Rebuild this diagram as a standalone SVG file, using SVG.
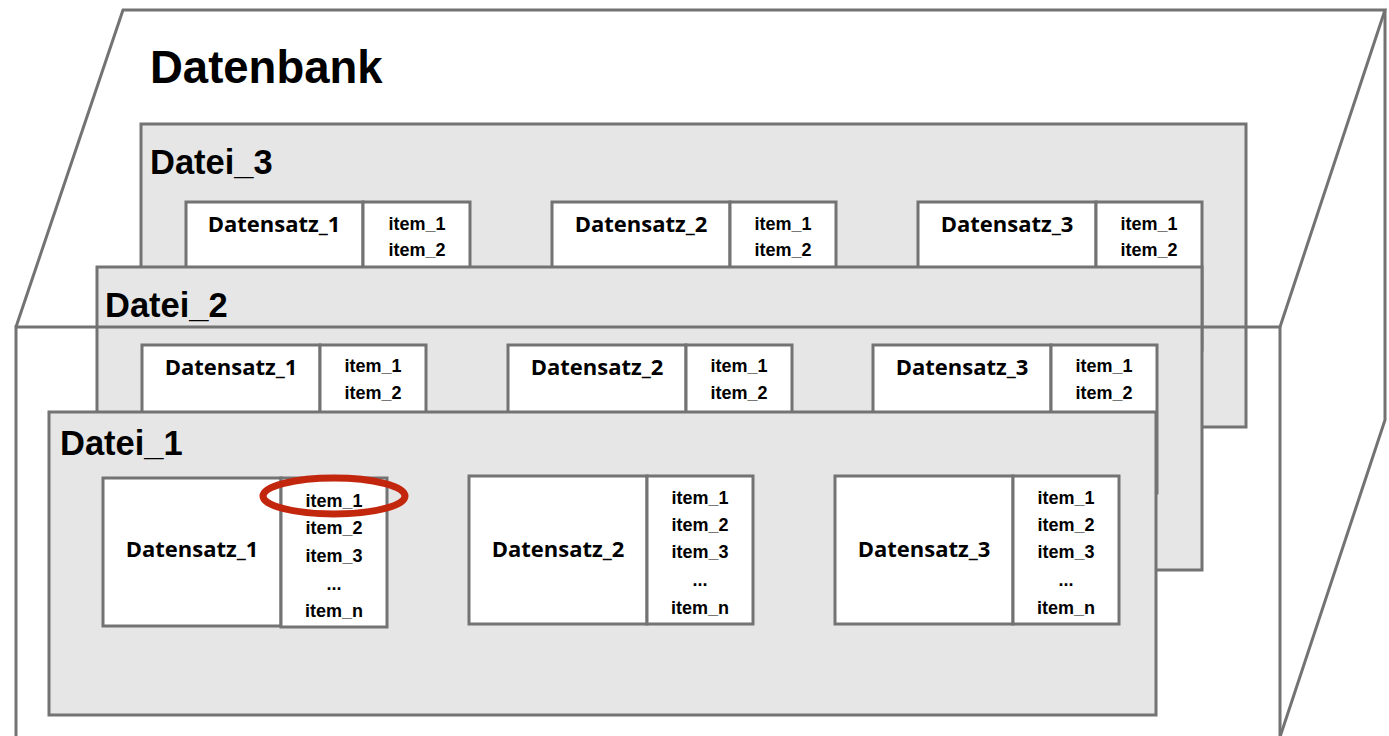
<svg xmlns="http://www.w3.org/2000/svg" width="1389" height="736" viewBox="0 0 1389 736">
  <style>
    .edge { fill: none; stroke: #737373; stroke-width: 3; }
    .file { fill: #e6e6e6; stroke: #737373; stroke-width: 3; }
    .rec { fill: #ffffff; stroke: #737373; stroke-width: 3; }
    .title { font-family: "Liberation Sans", Arial, sans-serif; font-weight: bold; fill: #000; }
    .rname { font-family: "Open Sans", "Liberation Sans", sans-serif; font-weight: bold; font-size: 22px; fill: #000; text-anchor: middle; }
    .item { font-family: "Liberation Sans", Arial, sans-serif; font-weight: bold; font-size: 18px; fill: #000; text-anchor: middle; }
    .mark { fill: none; stroke: #c2260c; stroke-width: 7; }
  </style>

  <rect width="1389" height="736" fill="#ffffff"/>

  <!-- database cube: back and top edges -->
  <g id="cube-back">
    <polyline class="edge" points="16,327 123,10 1385,10 1280,327"/>
    <polyline class="edge" points="1385,10 1385,420 1280,737"/>
    <text class="title" x="150" y="83" font-size="45.5">Datenbank</text>
  </g>

  <!-- file 3 -->
  <g id="datei3">
    <rect class="file" x="141" y="124" width="1105" height="303"/>
    <text class="title" x="150" y="174" font-size="34.5">Datei_3</text>
    <g id="datei3-ds1">
      <rect class="rec" x="186" y="202" width="177" height="148"/>
      <rect class="rec" x="363" y="202" width="107" height="148"/>
      <text class="rname" x="274" y="232">Datensatz_1</text>
      <text class="item" x="417" y="230">item_1</text>
      <text class="item" x="417" y="256">item_2</text>
    </g>
    <g id="datei3-ds2">
      <rect class="rec" x="552" y="202" width="178" height="148"/>
      <rect class="rec" x="730" y="202" width="106" height="148"/>
      <text class="rname" x="641" y="232">Datensatz_2</text>
      <text class="item" x="783" y="230">item_1</text>
      <text class="item" x="783" y="256">item_2</text>
    </g>
    <g id="datei3-ds3">
      <rect class="rec" x="918" y="202" width="178" height="148"/>
      <rect class="rec" x="1096" y="202" width="106" height="148"/>
      <text class="rname" x="1007" y="232">Datensatz_3</text>
      <text class="item" x="1149" y="230">item_1</text>
      <text class="item" x="1149" y="256">item_2</text>
    </g>
  </g>

  <!-- file 2 -->
  <g id="datei2">
    <rect class="file" x="97" y="267" width="1105" height="303"/>
    <text class="title" x="105" y="317" font-size="34.5">Datei_2</text>
    <g id="datei2-ds1">
      <rect class="rec" x="142" y="345" width="178" height="148"/>
      <rect class="rec" x="320" y="345" width="106" height="148"/>
      <text class="rname" x="231" y="375">Datensatz_1</text>
      <text class="item" x="373" y="372">item_1</text>
      <text class="item" x="373" y="399">item_2</text>
    </g>
    <g id="datei2-ds2">
      <rect class="rec" x="508" y="345" width="178" height="148"/>
      <rect class="rec" x="686" y="345" width="106" height="148"/>
      <text class="rname" x="597" y="375">Datensatz_2</text>
      <text class="item" x="739" y="372">item_1</text>
      <text class="item" x="739" y="399">item_2</text>
    </g>
    <g id="datei2-ds3">
      <rect class="rec" x="873" y="345" width="178" height="148"/>
      <rect class="rec" x="1051" y="345" width="106" height="148"/>
      <text class="rname" x="962" y="375">Datensatz_3</text>
      <text class="item" x="1104" y="372">item_1</text>
      <text class="item" x="1104" y="399">item_2</text>
    </g>
  </g>

  <!-- database cube: front face outline -->
  <g id="cube-front">
    <polyline class="edge" points="16,737 16,327 1280,327 1280,737"/>
  </g>

  <!-- file 1 -->
  <g id="datei1">
    <rect class="file" x="49" y="412" width="1107" height="303"/>
    <text class="title" x="60" y="455" font-size="34.5">Datei_1</text>
    <g id="datei1-ds1">
      <rect class="rec" x="103" y="478" width="178" height="148"/>
      <rect class="rec" x="281" y="478" width="106" height="149"/>
      <text class="rname" x="192" y="557">Datensatz_1</text>
      <text class="item" x="334" y="507">item_1</text>
      <text class="item" x="334" y="534">item_2</text>
      <text class="item" x="334" y="562">item_3</text>
      <text class="item" x="334" y="590">...</text>
      <text class="item" x="334" y="617">item_n</text>
    </g>
    <g id="datei1-ds2">
      <rect class="rec" x="469" y="476" width="178" height="148"/>
      <rect class="rec" x="647" y="476" width="106" height="148"/>
      <text class="rname" x="558" y="557">Datensatz_2</text>
      <text class="item" x="700" y="504">item_1</text>
      <text class="item" x="700" y="531">item_2</text>
      <text class="item" x="700" y="558">item_3</text>
      <text class="item" x="700" y="586">...</text>
      <text class="item" x="700" y="614">item_n</text>
    </g>
    <g id="datei1-ds3">
      <rect class="rec" x="835" y="476" width="178" height="148"/>
      <rect class="rec" x="1013" y="476" width="106" height="148"/>
      <text class="rname" x="924" y="557">Datensatz_3</text>
      <text class="item" x="1066" y="504">item_1</text>
      <text class="item" x="1066" y="531">item_2</text>
      <text class="item" x="1066" y="558">item_3</text>
      <text class="item" x="1066" y="586">...</text>
      <text class="item" x="1066" y="614">item_n</text>
    </g>
  </g>

  <!-- highlight around the first item -->
  <g id="highlight">
    <ellipse class="mark" cx="334" cy="496" rx="71" ry="18"/>
  </g>
</svg>
